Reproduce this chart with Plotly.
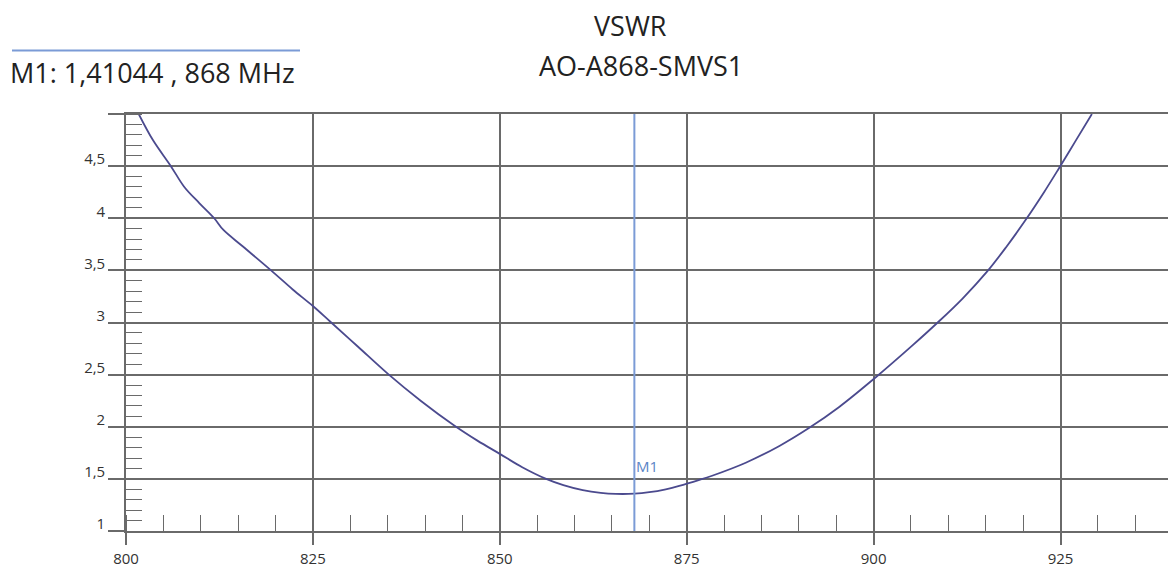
import plotly.graph_objects as go

# ---- data ----
freq_mhz = [801.7, 803.6, 806.0, 807.8, 809.8, 811.8, 813.0, 815.6, 819.4, 822.3,
            825.0, 827.3, 831.0, 835.0, 839.5, 843.9, 847.0, 850.0, 853.0, 856.2,
            858.5, 861.1, 863.5, 865.5, 868.0, 870.0, 872.2, 874.0, 876.7, 878.4,
            882.9, 887.4, 891.4, 895.4, 900.3, 905.2, 908.5, 911.9, 915.2, 917.7,
            920.3, 922.8, 924.8, 927.0, 929.2]
vswr = [5.00, 4.75, 4.50, 4.30, 4.146, 4.00, 3.89, 3.731, 3.50, 3.317,
        3.158, 3.01, 2.77, 2.51, 2.245, 2.012, 1.867, 1.74, 1.612, 1.50,
        1.44, 1.392, 1.366, 1.356, 1.358, 1.372, 1.40, 1.432, 1.49, 1.53,
        1.655, 1.816, 1.99, 2.19, 2.475, 2.78, 2.995, 3.23, 3.49, 3.72,
        3.98, 4.25, 4.48, 4.74, 5.00]

x_tickvals = [800, 825, 850, 875, 900, 925]
x_ticktext = ["800", "825", "850", "875", "900", "925"]
y_tickvals = [1, 1.5, 2, 2.5, 3, 3.5, 4, 4.5, 5]
y_ticktext = ["1", "1,5", "2", "2,5", "3", "3,5", "4", "4,5", ""]

marker_freq = 868
marker_name = "M1"
legend_text = "M1: 1,41044 , 868 MHz"
title_line1 = "VSWR"
title_line2 = "AO-A868-SMVS1"

# ---- styles ----
GRID = "#6a6a6a"
CURVE = "#4b4a8e"
MARK = "#7b9bd6"
MARK_TXT = "#5a84c6"
FONT = "Open Sans"

OFF = 8  # page body margin
W, H = 1168, 559
ML, MR, MT, MB = 118, 0, 106, 36

fig = go.Figure()
fig.add_trace(go.Scatter(x=freq_mhz, y=vswr, mode="lines",
                         line=dict(color=CURVE, width=1.8, shape="spline", smoothing=1.0),
                         hoverinfo="skip", showlegend=False))
fig.add_trace(go.Scatter(x=[marker_freq, marker_freq], y=[y_tickvals[0], y_tickvals[-1]],
                         mode="lines", line=dict(color=MARK, width=2),
                         hoverinfo="skip", showlegend=False))

fig.update_xaxes(range=[800, 940.45], tickvals=x_tickvals, ticktext=x_ticktext,
                 showgrid=True, gridcolor=GRID, gridwidth=1.6,
                 showline=True, linecolor=GRID, linewidth=1.6, mirror=True,
                 ticks="outside", ticklen=12, tickwidth=1.6, tickcolor=GRID,
                 tickfont=dict(family=FONT, size=15, color="#333333"),
                 ticklabelstandoff=1,
                 zeroline=False,
                 minor=dict(tick0=800, dtick=5, ticks="inside", ticklen=16,
                            tickwidth=1.2, tickcolor=GRID, showgrid=False))
fig.update_yaxes(range=[1, 5], tickvals=y_tickvals, ticktext=y_ticktext,
                 showgrid=True, gridcolor=GRID, gridwidth=1.6,
                 showline=True, linecolor=GRID, linewidth=1.6,
                 ticks="outside", ticklen=16, tickwidth=1.6, tickcolor=GRID,
                 tickfont=dict(family=FONT, size=15, color="#333333"),
                 ticklabelshift=-7,
                 zeroline=False,
                 minor=dict(tick0=1, dtick=0.1, ticks="inside", ticklen=16,
                            tickwidth=1.2, tickcolor=GRID, showgrid=False))

pw = W - ML - MR
ph = H - MT - MB
def px(xp):
    return (xp - OFF - ML) / pw
def py(yp):
    return (H - MB - (yp - OFF)) / ph

fig.add_annotation(text=title_line1, xref="paper", yref="paper", x=px(630), y=py(26),
                   xanchor="center", yanchor="middle", showarrow=False,
                   font=dict(family=FONT, size=27, color="#222222"))
fig.add_annotation(text=title_line2, xref="paper", yref="paper", x=px(641), y=py(65),
                   xanchor="center", yanchor="middle", showarrow=False,
                   font=dict(family=FONT, size=27, color="#222222"))
fig.add_annotation(text=legend_text, xref="paper", yref="paper", x=px(8), y=py(73),
                   xanchor="left", yanchor="middle", showarrow=False,
                   font=dict(family=FONT, size=27, color="#222222"))
fig.add_shape(type="line", xref="paper", yref="paper", x0=px(12), x1=px(300),
              y0=py(50.5), y1=py(50.5), line=dict(color=MARK, width=2))
fig.add_annotation(text=marker_name, x=marker_freq, y=1.62, xanchor="left", yanchor="middle",
                   xshift=0, showarrow=False,
                   font=dict(family=FONT, size=15, color=MARK_TXT))

fig.update_layout(width=W, height=H, margin=dict(l=ML, r=MR, t=MT, b=MB),
                  paper_bgcolor="white", plot_bgcolor="white",
                  separators=",.", showlegend=False)

fig.write_html("out.html")
